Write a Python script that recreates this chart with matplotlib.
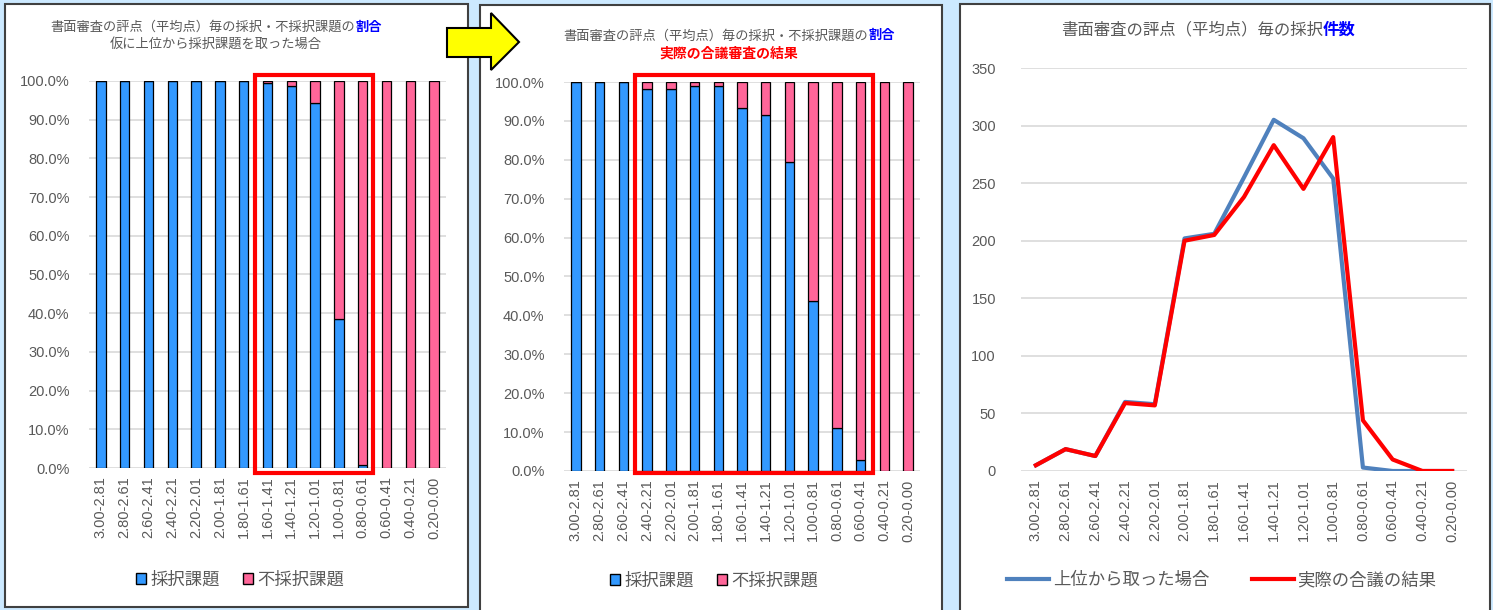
import matplotlib
matplotlib.use('Agg')
import matplotlib.pyplot as plt
from matplotlib.patches import Rectangle, Polygon, Patch
from matplotlib.offsetbox import TextArea, HPacker, VPacker, AnnotationBbox
from matplotlib.ticker import PercentFormatter, MultipleLocator

plt.rcParams['font.family'] = ['Liberation Sans', 'Noto Sans CJK JP']

# 評点の区分
categories = ['3.00-2.81', '2.80-2.61', '2.60-2.41', '2.40-2.21', '2.20-2.01',
              '2.00-1.81', '1.80-1.61', '1.60-1.41', '1.40-1.21', '1.20-1.01',
              '1.00-0.81', '0.80-0.61', '0.60-0.41', '0.40-0.21', '0.20-0.00']

# 採択課題の割合（上位から取った場合）
rate_top = [1.0, 1.0, 1.0, 1.0, 1.0, 1.0, 1.0, 0.995, 0.988, 0.942,
            0.384, 0.007, 0.0, 0.0, 0.0]
# 採択課題の割合（実際の合議審査の結果）
rate_actual = [1.0, 1.0, 1.0, 0.983, 0.982, 0.990, 0.990, 0.933, 0.916, 0.795,
               0.438, 0.110, 0.029, 0.0, 0.0]

# 採択件数
count_top = [5, 19, 13, 60, 58, 202, 206, 255, 305, 289, 254, 3, 0, 0, 0]
count_actual = [5, 19, 13, 59, 57, 200, 205, 238, 283, 245, 290, 44, 10, 0, 0]

legend_bar = ['採択課題', '不採択課題']
legend_line = ['上位から取った場合', '実際の合議の結果']

BLUE = '#3399ff'
PINK = '#ff6699'
GRAY = '#595959'
GRID = '#d9d9d9'

W, H = 1493, 610
fig = plt.figure(figsize=(W / 100, H / 100), dpi=100)
fig.patch.set_facecolor('#cce9ff')


def px_rect(x0, y0, x1, y1):
    return [x0 / W, 1 - y1 / H, (x1 - x0) / W, (y1 - y0) / H]


def fxy(x, y):
    return (x / W, 1 - y / H)


# パネルの白い背景
for x0, y0, x1, y1 in [(5, 4, 468, 607), (480, 5, 942, 614), (960, 4, 1490, 614)]:
    fig.patches.append(Rectangle(fxy(x0, y1), (x1 - x0) / W, (y1 - y0) / H,
                                 transform=fig.transFigure, facecolor='white',
                                 edgecolor='#404040', linewidth=1.5, zorder=-5))


def style_axes(ax):
    ax.set_facecolor('none')
    for s in ax.spines.values():
        s.set_visible(False)
    ax.grid(axis='y', color=GRID, linewidth=1.2)
    ax.set_axisbelow(True)
    ax.tick_params(axis='both', length=0, colors=GRAY, labelsize=10.5)
    ax.tick_params(axis='x', pad=6)
    ax.tick_params(axis='y', pad=14)


def bar_panel(rect, rates, legend_xy):
    ax = fig.add_axes(rect)
    style_axes(ax)
    x = range(len(categories))
    rej = [1 - r for r in rates]
    ax.bar(x, rates, width=0.4, color=BLUE, edgecolor='black', linewidth=0.9)
    ax.bar(x, rej, bottom=rates, width=0.4, color=PINK, edgecolor='black', linewidth=0.9)
    ax.set_xlim(-0.5, len(categories) - 0.5)
    ax.set_ylim(0, 1)
    ax.yaxis.set_major_locator(MultipleLocator(0.1))
    ax.yaxis.set_major_formatter(PercentFormatter(1.0, decimals=1))
    ax.set_xticks(list(x))
    ax.set_xticklabels(categories, rotation=90, fontsize=10.5)
    handles = [Patch(facecolor=BLUE, edgecolor='black'),
               Patch(facecolor=PINK, edgecolor='black')]
    fig.legend(handles, legend_bar, loc='center', bbox_to_anchor=fxy(*legend_xy),
               ncol=2, frameon=False, fontsize=12.5, labelcolor=GRAY,
               handlelength=0.6, handleheight=0.6, handletextpad=0.25,
               columnspacing=1.3)
    return ax


ax1 = bar_panel(px_rect(89, 81, 446, 468), rate_top, (240, 579))
ax2 = bar_panel(px_rect(564, 82, 920, 471), rate_actual, (714, 580))

# 折れ線グラフ
ax3 = fig.add_axes(px_rect(1021, 68, 1467, 471))
style_axes(ax3)
ax3.plot(range(len(categories)), count_top, color='#4f81bd', linewidth=3,
         label=legend_line[0])
ax3.plot(range(len(categories)), count_actual, color='red', linewidth=3,
         label=legend_line[1])
ax3.set_xlim(-0.5, len(categories) - 0.5)
ax3.set_ylim(0, 350)
ax3.yaxis.set_major_locator(MultipleLocator(50))
ax3.set_xticks(range(len(categories)))
ax3.set_xticklabels(categories, rotation=90, fontsize=10.5)
ax3.tick_params(axis='y', pad=18)
fig.legend(*ax3.get_legend_handles_labels(), loc='center',
           bbox_to_anchor=fxy(1222, 580), ncol=2, frameon=False, fontsize=12.5,
           labelcolor=GRAY, handlelength=2.4, handletextpad=0.2,
           columnspacing=2.5)


# タイトル（色分け）
def title(lines, xy):
    rows = []
    for parts in lines:
        boxes = [TextArea(t, textprops=dict(color=c, fontsize=fs, fontweight=fw))
                 for t, c, fs, fw in parts]
        rows.append(HPacker(children=boxes, pad=0, sep=0, align='baseline'))
    box = VPacker(children=rows, pad=0, sep=3, align='center')
    ab = AnnotationBbox(box, fxy(*xy), xycoords='figure fraction',
                        frameon=False, box_alignment=(0.5, 0.5))
    fig.add_artist(ab)


title([[('書面審査の評点（平均点）毎の採択・不採択課題の', GRAY, 9.5, 'normal'),
        ('割合', 'blue', 9.5, 'bold')],
       [('仮に上位から採択課題を取った場合', GRAY, 9.5, 'normal')]], (216, 36))
title([[('書面審査の評点（平均点）毎の採択・不採択課題の', GRAY, 9.5, 'normal'),
        ('割合', 'blue', 9.5, 'bold')],
       [('実際の合議審査の結果', 'red', 10, 'bold')]], (729, 45))
title([[('書面審査の評点（平均点）毎の採択', GRAY, 11.8, 'normal'),
        ('件数', 'blue', 11.8, 'bold')]], (1208, 30))

# 赤い枠
for x0, y0, x1, y1 in [(255, 75, 373, 473), (635, 75, 873, 473)]:
    fig.patches.append(Rectangle(fxy(x0, y1), (x1 - x0) / W, (y1 - y0) / H,
                                 transform=fig.transFigure, facecolor='none',
                                 edgecolor='red', linewidth=3, zorder=10))

# 黄色の矢印
arrow_px = [(447, 28), (491, 28), (491, 13), (519, 42), (491, 70), (491, 57), (447, 57)]
fig.patches.append(Polygon([fxy(x, y) for x, y in arrow_px], closed=True,
                           transform=fig.transFigure, facecolor='#ffff00',
                           edgecolor='black', linewidth=1.5, zorder=10))

fig.savefig('out.png', dpi=100)
